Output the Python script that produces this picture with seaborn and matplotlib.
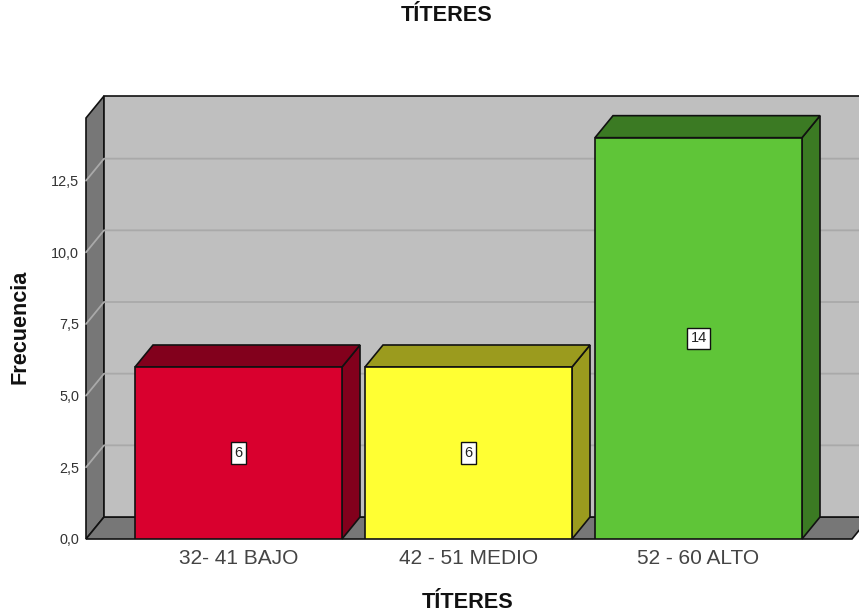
import matplotlib
matplotlib.use("Agg")
import matplotlib.pyplot as plt
from matplotlib.patches import Polygon
import pandas as pd
import seaborn as sns

categories = ["32- 41 BAJO", "42 - 51 MEDIO", "52 - 60 ALTO"]
frecuencia = [6, 6, 14]
front_colors = ["#D9002E", "#FFFF33", "#5FC538"]
side_colors = ["#82001C", "#9B9B1E", "#3B7A23"]
y_ticks = [0, 2.5, 5, 7.5, 10, 12.5]
y_tick_labels = ["0,0", "2,5", "5,0", "7,5", "10,0", "12,5"]

W, H = 859, 613
L, R, T, B = 86, 852, 118, 539
PX_X = 230.0
PX_Y = 172 / 6
DX, DY = 18 / PX_X, 22 / PX_Y

sns.set_theme(style="white")
plt.rcParams["font.family"] = ["Liberation Sans", "DejaVu Sans"]

fig = plt.figure(figsize=(W / 100, H / 100), dpi=100, facecolor="white")
ax = fig.add_axes([L / W, 1 - B / H, (R - L) / W, (B - T) / H])
df = pd.DataFrame({"cat": categories, "n": frecuencia})
sns.barplot(data=df, x="cat", y="n", hue="cat", palette=front_colors, width=0.9,
            dodge=False, legend=False, edgecolor="#111111", linewidth=1.2,
            saturation=1, ax=ax)

x0 = (L - 238.5) / PX_X
x1 = (R - 238.5) / PX_X
y1 = (B - T) / PX_Y
ax.set_xlim(x0, x1)
ax.set_ylim(0, y1)
ax.patch.set_visible(False)
for s in ax.spines.values():
    s.set_visible(False)


def poly(pts, fc, ec="#111111", lw=1.2, z=0.5):
    ax.add_patch(Polygon(pts, closed=True, facecolor=fc, edgecolor=ec, linewidth=lw,
                         zorder=z, clip_on=False, joinstyle="miter"))


bars = list(ax.patches)
# chart frame: side wall, floor, back wall
poly([(x0, 0), (x0 + DX, DY), (x0 + DX, y1 + DY), (x0, y1)], "#777777", z=0.5)
poly([(x0, 0), (x1, 0), (x1 + DX, DY), (x0 + DX, DY)], "#777777", z=0.5)
poly([(x0 + DX, DY), (x1 + DX, DY), (x1 + DX, y1 + DY), (x0 + DX, y1 + DY)], "#BFBFBF", z=0.6)

for t in y_ticks[1:]:
    ax.plot([x0, x0 + DX, x1 + DX], [t, t + DY, t + DY], color="#A9A9A9", lw=1.3,
            zorder=0.7, clip_on=False)

# 3D bar faces
for bar, side, v in zip(bars, side_colors, frecuencia):
    a, b = bar.get_x(), bar.get_x() + bar.get_width()
    bar.set_zorder(2)
    poly([(b, 0), (b + DX, DY), (b + DX, v + DY), (b, v)], side, z=1.5)
    poly([(a, v), (b, v), (b + DX, v + DY), (a + DX, v + DY)], side, z=1.5)
    ax.text((a + b) / 2, v / 2, str(v), ha="center", va="center", fontsize=10.5,
            color="#222222", zorder=3,
            bbox=dict(boxstyle="square,pad=0.25", fc="white", ec="#111111", lw=1))

ax.set_yticks(y_ticks)
ax.set_yticklabels(y_tick_labels, fontsize=10.4, color="#333333")
ax.set_xticks(range(len(categories)))
ax.set_xticklabels(categories, fontsize=15, color="#444444")
ax.tick_params(axis="both", length=0)
ax.tick_params(axis="x", pad=7)
ax.tick_params(axis="y", pad=5)

ax.set_xlabel("TÍTERES", fontsize=15.6, fontweight="bold", color="#111111")
ax.xaxis.set_label_coords((468 - L) / (R - L), -(603 - B) / (B - T), transform=ax.transAxes)
ax.xaxis.label.set_verticalalignment("center")
ax.set_ylabel("Frecuencia", fontsize=15.6, fontweight="bold", color="#111111")
ax.yaxis.set_label_coords(-(86 - 20) / (R - L), (B - 327) / (B - T), transform=ax.transAxes)
ax.yaxis.label.set_verticalalignment("center")
ax.set_title("TÍTERES", fontsize=15.6, fontweight="bold", color="#111111",
             x=(447 - L) / (R - L), y=(B - 24) / (B - T), va="center")

fig.savefig("out.png", dpi=100, facecolor="white")
